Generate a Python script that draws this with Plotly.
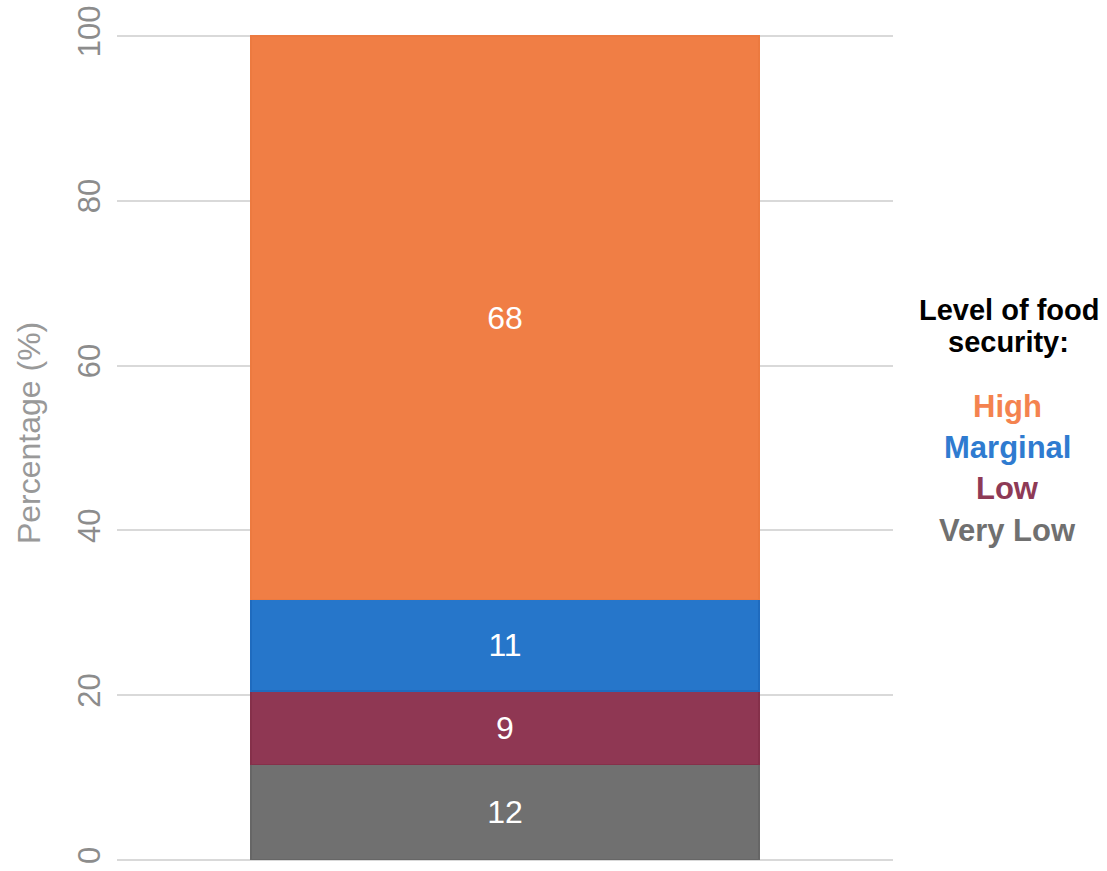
import plotly.graph_objects as go

categories = ["All"]
levels = ["Very Low", "Low", "Marginal", "High"]
values = [11.6, 8.9, 11.1, 68.4]
bar_colors = ["#707070", "#8F3753", "#2676CA", "#F07E45"]
line_colors = ["#666666", "#85304A", "#1F6BBE", "#EC7A40"]
legend_colors = ["#707070", "#8E3A56", "#2F7BD0", "#F4834F"]
y_ticks = [0, 20, 40, 60, 80, 100]
legend_title_lines = ["Level of food", "security:"]
y_title = "Percentage (%)"

FONT = "Arial, Liberation Sans, sans-serif"

fig = go.Figure()
for lvl, v, c, lc in zip(levels, values, bar_colors, line_colors):
    fig.add_trace(go.Bar(
        x=categories, y=[v], name=lvl,
        marker=dict(color=c, line=dict(color=lc, width=1.5)),
        text=[f"{round(v)}"], textposition="inside", insidetextanchor="middle",
        textangle=0, textfont=dict(color="white", size=32, family=FONT),
        showlegend=False, hoverinfo="skip",
    ))

fig.update_layout(
    barmode="stack", bargap=0.345,
    width=1107, height=871,
    margin=dict(l=117, r=214, t=31, b=11, autoexpand=False),
    plot_bgcolor="white", paper_bgcolor="white",
    font=dict(family=FONT),
)
fig.update_xaxes(showticklabels=False, showgrid=False, zeroline=False, showline=False)
fig.update_yaxes(
    range=[0, 100.6], tickvals=y_ticks, tickangle=-90,
    tickfont=dict(size=31, color="#8C8C8C", family=FONT),
    gridcolor="#D9D9D9", gridwidth=2,
    zeroline=True, zerolinecolor="#D9D9D9", zerolinewidth=2,
    showline=False, ticks="", ticklabelstandoff=10, automargin=False,
)

# y-axis title
fig.add_annotation(
    xref="paper", yref="paper", x=-0.1134, y=0.515, xanchor="center", yanchor="middle",
    text=y_title, textangle=-90, showarrow=False,
    font=dict(size=32, color="#999999", family=FONT),
)

# legend drawn as text
for line, yy in zip(legend_title_lines, [0.6631, 0.6245]):
    fig.add_annotation(
        xref="paper", yref="paper", x=1.149, y=yy, xanchor="center", yanchor="middle",
        text=f"<b>{line}</b>", showarrow=False,
        font=dict(size=29, color="black", family=FONT),
    )
item_y = [0.3969, 0.4479, 0.4974, 0.5474]
for lvl, c, yy in zip(levels, legend_colors, item_y):
    fig.add_annotation(
        xref="paper", yref="paper", x=1.148, y=yy, xanchor="center", yanchor="middle",
        text=f"<b>{lvl}</b>", showarrow=False,
        font=dict(size=31, color=c, family=FONT),
    )

fig.write_html("out.html", config={"displayModeBar": False},
               post_script="document.body.style.margin='0';")
